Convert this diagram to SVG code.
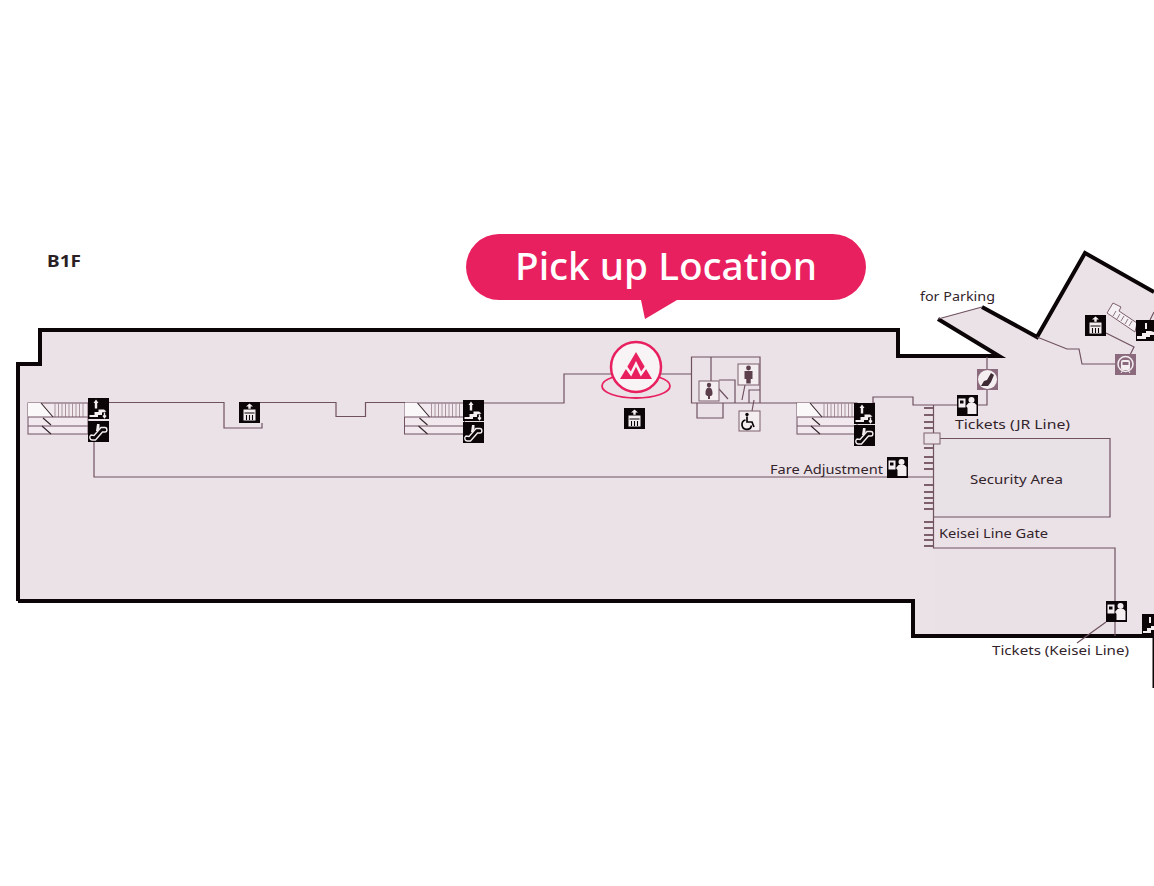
<svg xmlns="http://www.w3.org/2000/svg" width="1154" height="886" viewBox="0 0 1154 886">
<style>
.wall{fill:none;stroke:#0c0508;stroke-width:4;stroke-linejoin:miter}
.ln{fill:none;stroke:#6f5160;stroke-width:1.2}
.lab{font-family:"Noto Sans","Liberation Sans",Arial,sans-serif;font-size:13px;fill:#33242c}
.blk{fill:#0c0508}
.wh{fill:#f4eef1}
.whs{fill:none;stroke:#f4eef1;stroke-width:1.4}
.pk{fill:#e8205f}
.box{fill:#f4eef1;stroke:#7d5f6c;stroke-width:1}
.fig{fill:#5d3f4c}
</style>
<defs>
<g id="stairs">
<rect x="0" y="0" width="60" height="31" fill="#f1e9ed" stroke="#6f5160" stroke-width="1"/>
<path d="M0 0H13L25 14H0Z" fill="#fbf8f9"/>
<path d="M27 0v14M30.500 0v14M34 0v14M37.500 0v14M41 0v14M44.500 0v14M48 0v14M51.500 0v14M55 0v14" stroke="#a08a95" stroke-width=".9" fill="none"/>
<path d="M0 14H60M0 23H60" stroke="#6f5160" stroke-width="1" fill="none"/>
<path d="M13 0L25 14M15 15L23 22M14 23L23 31" stroke="#33242c" stroke-width="1.100" fill="none"/>
</g>
<g id="icoStair">
<rect width="21" height="21" class="blk"/>
<path class="wh" d="M1.500 17h5v-3h4v-2.500h5.500l2.500 2-4.500 1v2.500h-4v2h-8.500z"/>
<path class="wh" d="M8 1.500l2.500 3.500H9.200v5.500H6.800V5H5.500z"/>
<path class="whs" d="M16.500 14.500v5M15 17.500l1.500 2 1.500-2"/>
</g>
<g id="icoEsc">
<rect width="21" height="21" class="blk"/>
<path class="whs" d="M3 14c-2 1.200-1.500 5 1 5h3.500l7-8h2.500c2.500 0 2.500-4.500 0-4.500h-4l-7 8z"/>
<path class="wh" d="M9 3h2.500v3.500L10 10H8z"/>
</g>
<g id="icoLift">
<rect width="21" height="21" class="blk"/>
<path class="wh" d="M10.500 1.500l3.500 3h-2.300v2.300H9.300V4.500H7z"/>
<rect x="4.500" y="7.500" width="12" height="11" class="wh"/>
<path d="M7.500 13v5M10.500 13v5M13.500 13v5M5.500 11h10" stroke="#0c0508" stroke-width="1.100"/>
</g>
<g id="icoTicket">
<rect width="21" height="21" class="blk"/>
<rect x="1.500" y="3.500" width="7" height="9" class="wh"/>
<rect x="3" y="5.500" width="3.500" height="3" class="blk"/>
<circle cx="14.500" cy="5" r="3" class="wh"/>
<path class="wh" d="M9 11l2.500-3h6l2 2v9H10.500v-6z"/>
</g>
</defs>
<rect width="1154" height="886" fill="#fff"/>
<g id="floor">
<path d="M40 330H898V356H999L938 319L982 307L1037 337L1085 253L1154 292V636H913V601H18V364H40Z" fill="#ebe2e7"/>
<rect x="934" y="438.500" width="176" height="78.500" fill="#e8e1e5"/>
<rect x="934" y="548" width="181" height="88" fill="#e9e1e5"/>
</g>
<g id="connectors">
<path class="wall" d="M18 601V364H40V330H898V356H999L938 319"/>
<path class="wall" d="M982 307L1037 337L1085 253L1154 292"/>
<path class="wall" d="M18 601H913V636H1154"/>
<path d="M1153.500 636V688" stroke="#0c0508" stroke-width="2" fill="none"/>
<path class="ln" d="M938 319L982 307"/>
<path class="ln" d="M108 402.500H224V428H262V423M260 402.500H336V416.500H365.500V402.500H405M484 403H564V374H612M660 374H691.500"/>
<path class="ln" d="M691.500 357H760V403H691.500ZM711 357V381M719 380H735V403M719 389L728 399M745 385L742 400M749 403V390H760M754 400L752 411M697 403V418H723V403M760 403H797"/>
<path class="ln" d="M875 403H873V397H913V405H957M977 405H987V357"/>
<path class="ln" d="M94 442V477H934M933.500 405V548H1115V601M1115 622V636M1106 622L1077 643"/>
<path class="ln" d="M940 438.500H1110V517H934"/>
<path class="ln" d="M1037 337L1067 349H1079L1082 364H1115M1106 333L1134 347L1130 355M1150 320L1154 312"/>
<path d="M924 408h9M924 415h9M924 422h9M924 428h9M924 448h9M924 457h9M924 463h9M924 469h9M924 485h9M924 492h9M924 498h9M924 503h9M924 509h9M924 522h9M924 528h9M924 535h9M924 540h9M924 546h9" stroke="#7d5f6c" stroke-width="2.200" fill="none"/>
<rect x="924" y="433" width="16" height="11" fill="#ebe2e7" stroke="#7d5f6c"/>
</g>
<g id="stairs-west"><use href="#stairs" x="28" y="403"/><use href="#icoStair" x="88" y="398"/><use href="#icoEsc" x="88" y="421"/></g>
<g id="lift-west"><use href="#icoLift" x="239" y="402"/></g>
<g id="stairs-mid"><use href="#stairs" x="404.500" y="403"/><use href="#icoStair" x="463" y="400"/><use href="#icoEsc" x="463" y="422"/></g>
<g id="lift-mid"><use href="#icoLift" x="624" y="408"/></g>
<g id="pickup-pin">
<ellipse cx="636" cy="386" rx="34" ry="12" fill="#ebe2e7" stroke="#e8205f" stroke-width="1.800"/>
<circle cx="636" cy="367" r="25" fill="#f8f4f6" stroke="#e8205f" stroke-width="2.500"/>
<path class="pk" d="M636 352L652 379H620Z"/>
<path d="M626 367L631 374L636 364L641 374L646 367" fill="none" stroke="#f8f4f6" stroke-width="2.600"/>
</g>
<g id="toilet-women"><rect x="699" y="381" width="20" height="20" class="box"/><circle cx="709" cy="385" r="2.200" class="fig"/><path class="fig" d="M709 387.500c2.500 0 3.500 2.500 3.500 5.500s-1.500 3-2.500 3v3h-2v-3c-1 0-2.500 0-2.500-3s1-5.500 3.500-5.500z"/></g>
<g id="toilet-men"><rect x="738" y="364" width="21" height="21" class="box"/><circle cx="748.500" cy="368" r="2.400" class="fig"/><path class="fig" d="M744.500 371h8v8h-1.800v4.500h-4.400V379h-1.800z"/></g>
<g id="toilet-access"><rect x="739" y="411" width="21" height="20" class="box"/><circle cx="747" cy="414.500" r="1.700" class="blk"/><path d="M747 416.500v5.500h5l2 5M745.500 420a4.800 4.800 0 1 0 6 5.500" fill="none" stroke="#0c0508" stroke-width="1.700"/></g>
<g id="stairs-east"><use href="#stairs" x="797" y="403"/><use href="#icoStair" x="854" y="403"/><use href="#icoEsc" x="854" y="425"/></g>
<g id="seat-icon"><rect x="977" y="369" width="21" height="21" fill="#8a6a7c"/><circle cx="987.500" cy="379.500" r="9.500" fill="#f4eef1"/><path d="M981 386l3-5 3-1 4-7 3 2-3 7-3 4z" fill="#3d2a33"/></g>
<g id="tickets-jr"><use href="#icoTicket" x="957" y="395"/></g>
<g id="fare-icon"><use href="#icoTicket" x="887" y="457"/></g>
<g id="tickets-keisei"><use href="#icoTicket" x="1106" y="601"/></g>
<g id="stair-partial"><rect x="1142" y="614" width="12" height="21" class="blk"/><path class="wh" d="M1143 631h4v-3h4v-2h3v4h-3v3h-8zM1149 617h2v6h-2z"/></g>
<g id="lift-north"><use href="#icoLift" x="1085" y="315"/></g>
<g id="stairs-north">
<path d="M1107 313L1113 303L1121 307L1119 311L1137 323L1135 332Z" fill="#f5f0f3" stroke="#7d5f6c"/>
<path d="M1113 316l3-5M1117 319l3-5M1121 321l3-5M1125 324l3-5M1129 326l3-5" stroke="#8d7581" fill="none"/>
<rect x="1136" y="320" width="18" height="21" class="blk"/>
<path class="wh" d="M1137 336h5v-3h4v-2h5l3 1v3h-4v2h-4v2h-9zM1145 323h2v6h-2z"/>
</g>
<g id="train-icon"><rect x="1115" y="354" width="21" height="21" fill="#8a6a7c"/><circle cx="1125.500" cy="364" r="7.500" fill="none" stroke="#f4eef1" stroke-width="1.500"/><rect x="1121" y="360" width="9" height="10" rx="2" fill="#f4eef1"/><rect x="1122.500" y="362" width="6" height="3" fill="#8a6a7c"/><path d="M1121 373l2-3M1130 373l-2-3" stroke="#f4eef1"/></g>
<g id="callout">
<path class="pk" d="M499 234H833A33 33 0 0 1 833 300H677L645 319L641 300H499A33 33 0 0 1 499 234Z"/>
<text x="515" y="280" font-family="Noto Sans,Liberation Sans,sans-serif" font-size="38" font-weight="500" fill="#fff" textLength="302" lengthAdjust="spacingAndGlyphs">Pick up Location</text>
</g>
<g id="labels">
<text x="47" y="267" font-family="Noto Sans,Liberation Sans,Arial,sans-serif" font-size="16" font-weight="700" fill="#2b1f26" textLength="34" lengthAdjust="spacingAndGlyphs">B1F</text>
<text class="lab" x="920" y="301" textLength="75" lengthAdjust="spacingAndGlyphs">for Parking</text>
<text class="lab" x="955" y="429" textLength="115" lengthAdjust="spacingAndGlyphs">Tickets (JR Line)</text>
<text class="lab" x="770" y="473.500" textLength="113" lengthAdjust="spacingAndGlyphs">Fare Adjustment</text>
<text class="lab" x="970" y="483.500" textLength="93" lengthAdjust="spacingAndGlyphs">Security Area</text>
<text class="lab" x="939" y="538" textLength="109" lengthAdjust="spacingAndGlyphs">Keisei Line Gate</text>
<text class="lab" x="992" y="655" textLength="137" lengthAdjust="spacingAndGlyphs">Tickets (Keisei Line)</text>
</g>
</svg>
